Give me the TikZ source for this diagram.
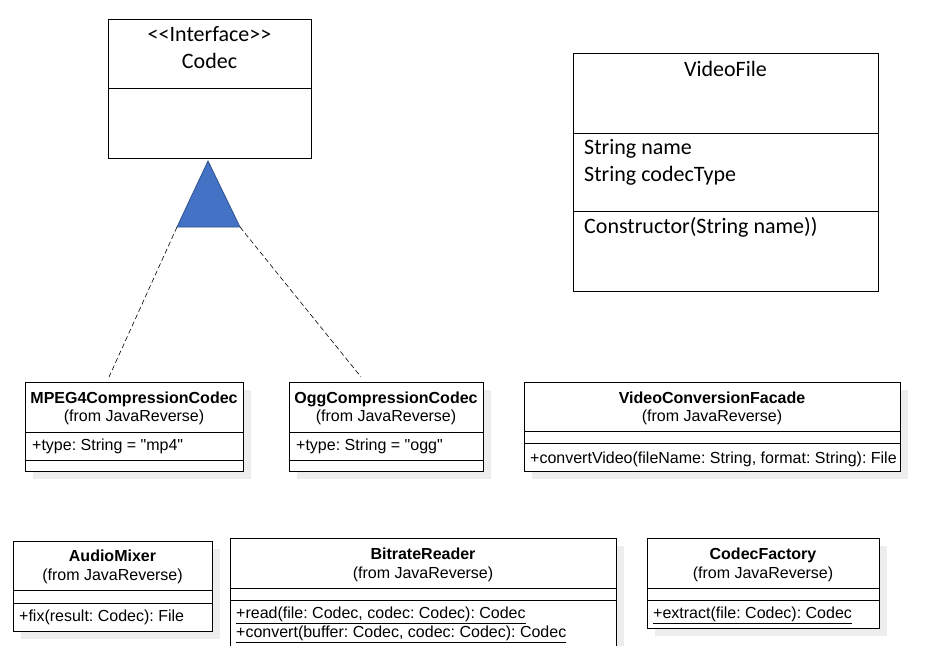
\documentclass[tikz,border=0pt]{standalone}
\usepackage{fontspec}
\usepackage{tikz}
\usetikzlibrary{shadows}
\newfontfamily\calfont{Carlito}
\newfontfamily\umlfont{Liberation Sans}
\frenchspacing

\begin{document}
\begin{tikzpicture}[x=1pt, y=-1pt,
    box/.style={draw, line width=0.8pt, fill=white, anchor=north west, inner sep=0pt},
    umlbox/.style={box, line width=1pt, drop shadow={shadow xshift=7pt, shadow yshift=-7pt, fill=black!7, opacity=1}},
    big/.style={font=\calfont\fontsize{22}{26}\selectfont, inner sep=0pt},
    title/.style={font=\umlfont\bfseries\fontsize{16}{18}\selectfont, inner sep=0pt, anchor=mid},
    small/.style={font=\umlfont\fontsize{16}{18}\selectfont, inner sep=0pt}]
    \clip (0,0) rectangle (933,645);
    \fill[white] (0,0) rectangle (933,645);

    % Interface box
    \node[box, minimum width=203pt, minimum height=139pt] (codec) at (108,19) {};
    \draw[line width=0.8pt] (108,88) -- (311,88);
    \node[big, anchor=mid] (codec-st) at (209.5,39) {<<Interface>>};
    \node[big, anchor=mid] (codec-nm) at (209.5,66) {Codec};

    % VideoFile box
    \node[box, minimum width=305pt, minimum height=238pt] (video) at (573,53) {};
    \draw[line width=0.8pt] (573,133) -- (878,133);
    \draw[line width=0.8pt] (573,211) -- (878,211);
    \node[big, anchor=mid] (video-nm) at (725.5,74) {VideoFile};
    \node[big, anchor=mid west] (video-a1) at (584,152) {String name};
    \node[big, anchor=mid west] (video-a2) at (584,179) {String codecType};
    \node[big, anchor=mid west] (video-m1) at (584,231) {Constructor(String name))};

    % Generalisation triangle
    \coordinate (tri-apex) at (208,161);
    \coordinate (tri-left) at (177,227);
    \coordinate (tri-right) at (240,227);
    \draw[fill={rgb,255:red,68;green,114;blue,196}, draw={rgb,255:red,47;green,82;blue,143}, line width=0.8pt]
        (tri-apex) -- (tri-left) -- (tri-right) -- cycle;
    \coordinate (mpeg-in) at (109,377);
    \coordinate (ogg-in) at (361,377);
    \draw[dash pattern=on 5pt off 3pt, line width=0.6pt] (tri-left) -- (mpeg-in);
    \draw[dash pattern=on 5pt off 3pt, line width=0.6pt] (tri-right) -- (ogg-in);

    % Row 1 classes
    \node[umlbox, minimum width=218pt, minimum height=89pt] (mpeg) at (25,382) {};
    \draw[line width=1pt] (25,432) -- (243,432) (25,460) -- (243,460);
    \node[title] (mpeg-nm) at (134,401) {MPEG4CompressionCodec};
    \node[small, anchor=mid] (mpeg-fr) at (134,419) {(from JavaReverse)};
    \node[small, anchor=mid west] (mpeg-a1) at (32,448) {+type: String = "mp4"};

    \node[umlbox, minimum width=194pt, minimum height=89pt] (ogg) at (289,382) {};
    \draw[line width=1pt] (289,432) -- (483,432) (289,460) -- (483,460);
    \node[title] (ogg-nm) at (386,401) {OggCompressionCodec};
    \node[small, anchor=mid] (ogg-fr) at (386,419) {(from JavaReverse)};
    \node[small, anchor=mid west] (ogg-a1) at (296,448) {+type: String = "ogg"};

    \node[umlbox, minimum width=376pt, minimum height=89pt] (facade) at (524,382) {};
    \draw[line width=1pt] (524,431) -- (900,431) (524,443) -- (900,443);
    \node[title] (facade-nm) at (712,401) {VideoConversionFacade};
    \node[small, anchor=mid] (facade-fr) at (712,419) {(from JavaReverse)};
    \node[small, anchor=mid west] (facade-m1) at (530,461) {+convertVideo(fileName: String, format: String): File};

    % Row 2 classes
    \node[umlbox, minimum width=199pt, minimum height=90pt] (mixer) at (13,541) {};
    \draw[line width=1pt] (13,590) -- (212,590) (13,603) -- (212,603);
    \node[title] (mixer-nm) at (112.5,559) {AudioMixer};
    \node[small, anchor=mid] (mixer-fr) at (112.5,578) {(from JavaReverse)};
    \node[small, anchor=mid west] (mixer-m1) at (19,619) {+fix(result: Codec): File};

    \node[umlbox, minimum width=386pt, minimum height=130pt] (bitrate) at (230,538) {};
    \draw[line width=1pt] (230,588) -- (616,588) (230,600) -- (616,600);
    \node[title] (bitrate-nm) at (423,557) {BitrateReader};
    \node[small, anchor=mid] (bitrate-fr) at (423,576) {(from JavaReverse)};
    \node[small, anchor=mid west] (bitrate-m1) at (236,616) {\underline{+read(file: Codec, codec: Codec): Codec}};
    \node[small, anchor=mid west] (bitrate-m2) at (236,635) {\underline{+convert(buffer: Codec, codec: Codec): Codec}};

    \node[umlbox, minimum width=232pt, minimum height=90pt] (factory) at (647,538) {};
    \draw[line width=1pt] (647,588) -- (879,588) (647,600) -- (879,600);
    \node[title] (factory-nm) at (763,557) {CodecFactory};
    \node[small, anchor=mid] (factory-fr) at (763,576) {(from JavaReverse)};
    \node[small, anchor=mid west] (factory-m1) at (653,616) {\underline{+extract(file: Codec): Codec}};
\end{tikzpicture}
\end{document}
